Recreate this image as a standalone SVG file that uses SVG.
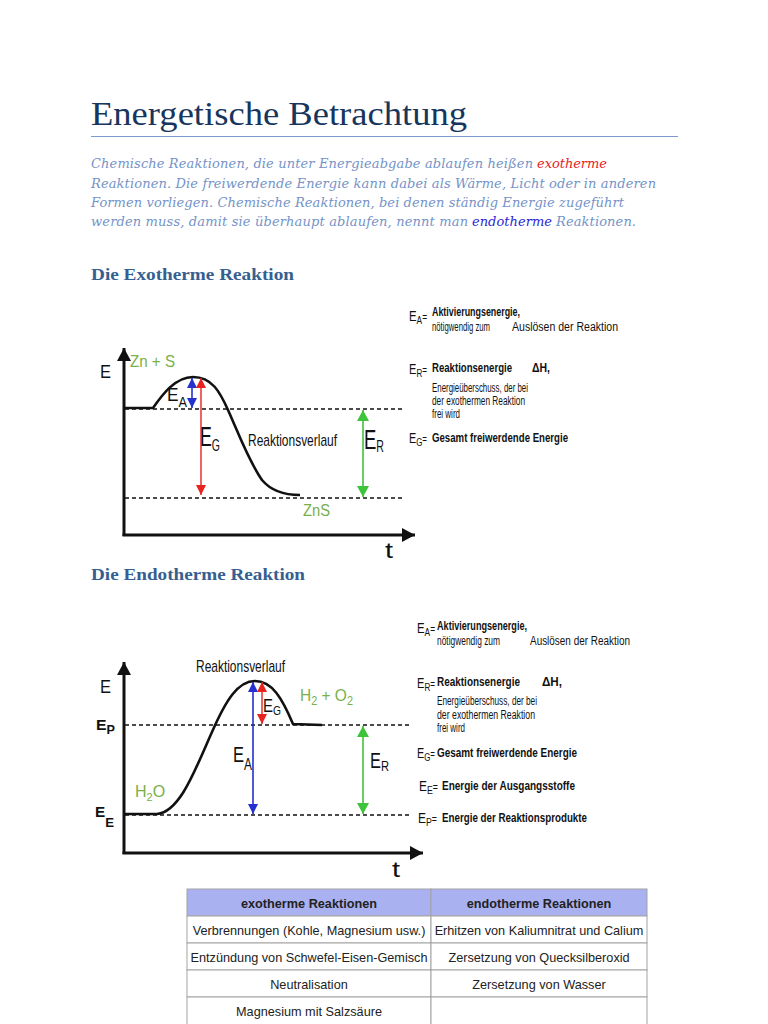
<svg xmlns="http://www.w3.org/2000/svg" width="768" height="1024" viewBox="0 0 768 1024">
<style>
.title{font-family:"Liberation Serif",serif;font-size:34px;fill:#17365d}
.para{font-family:"DejaVu Serif",serif;font-style:italic;font-size:13px;fill:#7593c8}
.h2{font-family:"Liberation Serif",serif;font-weight:bold;font-size:17px;fill:#365f91}
.lbl{font-family:"Liberation Sans",Arial,sans-serif;fill:#111}
.grn{font-family:"Liberation Sans",Arial,sans-serif;fill:#78b04a}
.leg{font-family:"Liberation Sans",Arial,sans-serif;font-size:12.5px;fill:#111}
.legb{font-family:"Liberation Sans",Arial,sans-serif;font-size:12.5px;font-weight:bold;fill:#111}
.dash{stroke:#111;stroke-width:1.4;stroke-dasharray:4 3;fill:none}
.curve{stroke:#111;stroke-width:2.6;fill:none}
.axis{stroke:#111;stroke-width:3;fill:none}
.cell{fill:#fff;stroke:#a3a3a3;stroke-width:1}
.hcell{fill:#aab1f1;stroke:#a3a3a3;stroke-width:1}
.tt{font-family:"Liberation Sans",Arial,sans-serif;font-size:12.7px;fill:#222;text-anchor:middle}
.th{font-family:"Liberation Sans",Arial,sans-serif;font-size:12.7px;font-weight:bold;fill:#222;text-anchor:middle}
</style>
<defs>
<marker id="ax" markerUnits="userSpaceOnUse" markerWidth="14" markerHeight="14" refX="13" refY="7" orient="auto"><path d="M0,0 L13,7 L0,14 z" fill="#111"/></marker>
<marker id="mb" markerUnits="userSpaceOnUse" markerWidth="10" markerHeight="10" refX="10" refY="5" orient="auto-start-reverse"><path d="M0,0 L10,5 L0,10 z" fill="#2530d0"/></marker>
<marker id="mr" markerUnits="userSpaceOnUse" markerWidth="10" markerHeight="10" refX="10" refY="5" orient="auto-start-reverse"><path d="M0,0 L10,5 L0,10 z" fill="#e8221e"/></marker>
<marker id="mg" markerUnits="userSpaceOnUse" markerWidth="12" markerHeight="12" refX="11" refY="6" orient="auto-start-reverse"><path d="M0,0 L11,6 L0,12 z" fill="#3fc33a"/></marker>
</defs>
<rect width="768" height="1024" fill="#fff"/>

<g id="header">
<text class="title" x="91" y="125" textLength="376" lengthAdjust="spacingAndGlyphs">Energetische Betrachtung</text>
<line x1="91" y1="136.5" x2="678" y2="136.5" stroke="#7b9bcf" stroke-width="1.2"/>
</g>

<g id="intro">
<text class="para" x="91" y="168" textLength="442" lengthAdjust="spacing">Chemische Reaktionen, die unter Energieabgabe ablaufen heißen</text>
<text class="para" x="537" y="168" textLength="70" lengthAdjust="spacing" style="fill:#e8221e">exotherme</text>
<text class="para" x="91" y="188" textLength="565" lengthAdjust="spacing">Reaktionen. Die freiwerdende Energie kann dabei als Wärme, Licht oder in anderen</text>
<text class="para" x="91" y="207" textLength="533" lengthAdjust="spacing">Formen vorliegen. Chemische Reaktionen, bei denen ständig Energie zugeführt</text>
<text class="para" x="91" y="226" textLength="377" lengthAdjust="spacing">werden muss, damit sie überhaupt ablaufen, nennt man</text>
<text class="para" x="472" y="226" textLength="80" lengthAdjust="spacing" style="fill:#2b1fd6">endotherme</text>
<text class="para" x="556" y="226" textLength="80" lengthAdjust="spacing">Reaktionen.</text>
</g>

<g id="exo-heading"><text class="h2" x="91" y="280" textLength="203" lengthAdjust="spacingAndGlyphs">Die Exotherme Reaktion</text></g>

<g id="exo-diagram">
<line class="axis" x1="124" y1="536" x2="124" y2="348" marker-end="url(#ax)"/>
<line class="axis" x1="122.5" y1="535" x2="415" y2="535" marker-end="url(#ax)"/>
<line class="dash" x1="125" y1="409" x2="405" y2="409"/>
<line class="dash" x1="125" y1="498" x2="405" y2="498"/>
<path class="curve" d="M124,408 L153,408 C162,395 175,377 193,377 C212,377 220,392 228,410 C238,432 248,460 262,480 C272,492 285,495 300,495"/>
<line x1="192" y1="378" x2="192" y2="408" stroke="#2530d0" stroke-width="1.6" marker-start="url(#mb)" marker-end="url(#mb)"/>
<line x1="201" y1="378" x2="201" y2="495" stroke="#e8221e" stroke-width="1.4" marker-start="url(#mr)" marker-end="url(#mr)"/>
<line x1="363" y1="410" x2="363" y2="497" stroke="#3fc33a" stroke-width="1.6" marker-start="url(#mg)" marker-end="url(#mg)"/>
<text class="lbl" x="100" y="378" font-size="18" textLength="11" lengthAdjust="spacingAndGlyphs">E</text>
<text class="grn" x="130" y="367" font-size="17" textLength="45" lengthAdjust="spacingAndGlyphs">Zn + S</text>
<text class="lbl" x="167" y="401" textLength="20" lengthAdjust="spacingAndGlyphs"><tspan font-size="19">E</tspan><tspan font-size="14" dy="6">A</tspan></text>
<text class="lbl" x="200" y="446" textLength="20" lengthAdjust="spacingAndGlyphs"><tspan font-size="27">E</tspan><tspan font-size="16" dy="5">G</tspan></text>
<text class="lbl" x="248" y="446" font-size="17" textLength="89" lengthAdjust="spacingAndGlyphs">Reaktionsverlauf</text>
<text class="lbl" x="364" y="449" textLength="20" lengthAdjust="spacingAndGlyphs"><tspan font-size="28">E</tspan><tspan font-size="16" dy="3">R</tspan></text>
<text class="grn" x="303" y="516" font-size="16" textLength="27" lengthAdjust="spacingAndGlyphs">ZnS</text>
<text class="lbl" x="385" y="558" font-size="22" textLength="8" lengthAdjust="spacingAndGlyphs">t</text>
</g>

<g id="exo-legend">
<text class="lbl" x="409" y="321" textLength="18" lengthAdjust="spacingAndGlyphs"><tspan font-size="15">E</tspan><tspan font-size="11" dy="3">A</tspan><tspan font-size="11" dy="-3">=</tspan></text>
<text class="legb" x="432" y="316" textLength="88" lengthAdjust="spacingAndGlyphs">Aktivierungsenergie,</text>
<text class="leg" x="432" y="331" textLength="58" lengthAdjust="spacingAndGlyphs">nötigwendig zum</text>
<text class="leg" x="512" y="331" textLength="106" lengthAdjust="spacingAndGlyphs">Auslösen der Reaktion</text>
<text class="lbl" x="409" y="374" textLength="18" lengthAdjust="spacingAndGlyphs"><tspan font-size="15">E</tspan><tspan font-size="11" dy="3">R</tspan><tspan font-size="11" dy="-3">=</tspan></text>
<text class="legb" x="432" y="372" textLength="80" lengthAdjust="spacingAndGlyphs">Reaktionsenergie</text>
<text class="legb" x="532" y="372" textLength="18" lengthAdjust="spacingAndGlyphs">ΔH,</text>
<text class="leg" x="432" y="392" textLength="96" lengthAdjust="spacingAndGlyphs">Energieüberschuss, der bei</text>
<text class="leg" x="432" y="405" textLength="93" lengthAdjust="spacingAndGlyphs">der exothermen Reaktion</text>
<text class="leg" x="432" y="418" textLength="28" lengthAdjust="spacingAndGlyphs">frei wird</text>
<text class="lbl" x="409" y="443" textLength="18" lengthAdjust="spacingAndGlyphs"><tspan font-size="15">E</tspan><tspan font-size="11" dy="3">G</tspan><tspan font-size="11" dy="-3">=</tspan></text>
<text class="legb" x="432" y="442" textLength="136" lengthAdjust="spacingAndGlyphs">Gesamt freiwerdende Energie</text>
</g>

<g id="endo-heading"><text class="h2" x="91" y="580" textLength="214" lengthAdjust="spacingAndGlyphs">Die Endotherme Reaktion</text></g>

<g id="endo-diagram">
<line class="axis" x1="124" y1="854" x2="124" y2="662" marker-end="url(#ax)"/>
<line class="axis" x1="122.5" y1="853" x2="423" y2="853" marker-end="url(#ax)"/>
<line class="dash" x1="125" y1="725" x2="411" y2="725"/>
<line class="dash" x1="125" y1="815" x2="411" y2="815"/>
<path class="curve" d="M124,814 L157,814 C180,812 195,770 212,732 C226,700 238,681 255,681 C272,681 282,698 293,724 L322,725"/>
<line x1="253" y1="682" x2="253" y2="814" stroke="#2530d0" stroke-width="1.6" marker-start="url(#mb)" marker-end="url(#mb)"/>
<line x1="262" y1="682" x2="262" y2="724" stroke="#e8221e" stroke-width="1.4" marker-start="url(#mr)" marker-end="url(#mr)"/>
<line x1="363" y1="726" x2="363" y2="814" stroke="#3fc33a" stroke-width="1.6" marker-start="url(#mg)" marker-end="url(#mg)"/>
<text class="lbl" x="196" y="672" font-size="17" textLength="89" lengthAdjust="spacingAndGlyphs">Reaktionsverlauf</text>
<text class="lbl" x="100" y="693" font-size="18" textLength="11" lengthAdjust="spacingAndGlyphs">E</text>
<text class="lbl" x="96" y="730" font-weight="bold" textLength="19" lengthAdjust="spacingAndGlyphs"><tspan font-size="15">E</tspan><tspan font-size="12" dy="4">P</tspan></text>
<text class="lbl" x="95" y="817" font-weight="bold" textLength="19" lengthAdjust="spacingAndGlyphs"><tspan font-size="15">E</tspan><tspan font-size="13" dy="10">E</tspan></text>
<text class="lbl" x="263" y="712" textLength="18" lengthAdjust="spacingAndGlyphs"><tspan font-size="19">E</tspan><tspan font-size="13" dy="3">G</tspan></text>
<text class="grn" x="300" y="701" font-size="17" textLength="53" lengthAdjust="spacingAndGlyphs">H<tspan font-size="12" dy="4">2</tspan><tspan dy="-4"> + O</tspan><tspan font-size="12" dy="4">2</tspan></text>
<text class="lbl" x="233" y="762" textLength="19" lengthAdjust="spacingAndGlyphs"><tspan font-size="22">E</tspan><tspan font-size="16" dy="8">A</tspan></text>
<text class="lbl" x="370" y="768" textLength="19" lengthAdjust="spacingAndGlyphs"><tspan font-size="22">E</tspan><tspan font-size="15" dy="3">R</tspan></text>
<text class="grn" x="135" y="797" font-size="16">H<tspan font-size="11" dy="4">2</tspan><tspan dy="-4">O</tspan></text>
<text class="lbl" x="392" y="877" font-size="22" textLength="8" lengthAdjust="spacingAndGlyphs">t</text>
</g>

<g id="endo-legend">
<text class="lbl" x="417" y="633" textLength="18" lengthAdjust="spacingAndGlyphs"><tspan font-size="15">E</tspan><tspan font-size="11" dy="3">A</tspan><tspan font-size="11" dy="-3">=</tspan></text>
<text class="legb" x="437" y="630" textLength="90" lengthAdjust="spacingAndGlyphs">Aktivierungsenergie,</text>
<text class="leg" x="437" y="645" textLength="63" lengthAdjust="spacingAndGlyphs">nötigwendig zum</text>
<text class="leg" x="530" y="645" textLength="100" lengthAdjust="spacingAndGlyphs">Auslösen der Reaktion</text>
<text class="lbl" x="417" y="688" textLength="18" lengthAdjust="spacingAndGlyphs"><tspan font-size="15">E</tspan><tspan font-size="11" dy="3">R</tspan><tspan font-size="11" dy="-3">=</tspan></text>
<text class="legb" x="437" y="686" textLength="83" lengthAdjust="spacingAndGlyphs">Reaktionsenergie</text>
<text class="legb" x="542" y="686" textLength="20" lengthAdjust="spacingAndGlyphs">ΔH,</text>
<text class="leg" x="437" y="705" textLength="100" lengthAdjust="spacingAndGlyphs">Energieüberschuss, der bei</text>
<text class="leg" x="437" y="719" textLength="98" lengthAdjust="spacingAndGlyphs">der exothermen Reaktion</text>
<text class="leg" x="437" y="732" textLength="28" lengthAdjust="spacingAndGlyphs">frei wird</text>
<text class="lbl" x="417" y="758" textLength="18" lengthAdjust="spacingAndGlyphs"><tspan font-size="15">E</tspan><tspan font-size="11" dy="3">G</tspan><tspan font-size="11" dy="-3">=</tspan></text>
<text class="legb" x="437" y="757" textLength="140" lengthAdjust="spacingAndGlyphs">Gesamt freiwerdende Energie</text>
<text class="lbl" x="419" y="791" textLength="19" lengthAdjust="spacingAndGlyphs"><tspan font-size="15">E</tspan><tspan font-size="11" dy="3">E</tspan><tspan font-size="11" dy="-3">=</tspan></text>
<text class="legb" x="442" y="790" textLength="133" lengthAdjust="spacingAndGlyphs">Energie der Ausgangsstoffe</text>
<text class="lbl" x="418" y="823" textLength="19" lengthAdjust="spacingAndGlyphs"><tspan font-size="15">E</tspan><tspan font-size="11" dy="3">P</tspan><tspan font-size="11" dy="-3">=</tspan></text>
<text class="legb" x="442" y="822" textLength="145" lengthAdjust="spacingAndGlyphs">Energie der Reaktionsprodukte</text>
</g>

<g id="table">
<rect class="hcell" x="187" y="889" width="244" height="27"/>
<rect class="hcell" x="431" y="889" width="216" height="27"/>
<rect class="cell" x="187" y="916" width="244" height="27"/>
<rect class="cell" x="431" y="916" width="216" height="27"/>
<rect class="cell" x="187" y="943" width="244" height="27"/>
<rect class="cell" x="431" y="943" width="216" height="27"/>
<rect class="cell" x="187" y="970" width="244" height="27"/>
<rect class="cell" x="431" y="970" width="216" height="27"/>
<rect class="cell" x="187" y="997" width="244" height="30"/>
<rect class="cell" x="431" y="997" width="216" height="30"/>
<text class="th" x="309" y="908">exotherme Reaktionen</text>
<text class="th" x="539" y="908">endotherme Reaktionen</text>
<text class="tt" x="309" y="935">Verbrennungen (Kohle, Magnesium usw.)</text>
<text class="tt" x="539" y="935">Erhitzen von Kaliumnitrat und Calium</text>
<text class="tt" x="309" y="962">Entzündung von Schwefel-Eisen-Gemisch</text>
<text class="tt" x="539" y="962">Zersetzung von Quecksilberoxid</text>
<text class="tt" x="309" y="989">Neutralisation</text>
<text class="tt" x="539" y="989">Zersetzung von Wasser</text>
<text class="tt" x="309" y="1016">Magnesium mit Salzsäure</text>
</g>
</svg>
